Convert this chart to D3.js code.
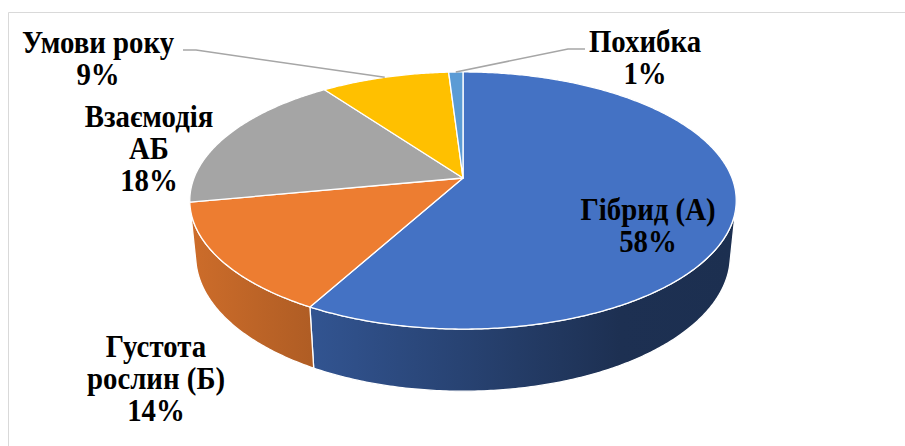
<!DOCTYPE html>
<html>
<head>
<meta charset="utf-8">
<script src="https://cdn.jsdelivr.net/npm/d3@7"></script>
<style>
  body { margin: 0; background: #fff; }
</style>
</head>
<body>
<svg id="chart" width="905" height="446"></svg>
<script>
// data, clockwise from 12 o'clock
var categories = ["Гібрид (А)", "Густота рослин (Б)", "Взаємодія АБ", "Умови року", "Похибка"];
var values = [58, 14, 18, 9, 1];
var labelLines = [["Гібрид (А)"], ["Густота", "рослин (Б)"], ["Взаємодія", "АБ"], ["Умови року"], ["Похибка"]];
var colors = ["#4472C4", "#ED7D31", "#A5A5A5", "#FFC000", "#5B9BD5"];

// layout of the 3d pie
var cx = 463, cy = 178;      // projected centre of the top face
var R = 269;                 // radius
var elev = 27.6 * Math.PI / 180;
var dist = 1362;             // camera distance (perspective)
var depth = 63;              // pie thickness
var sinE = Math.sin(elev), cosE = Math.cos(elev);

// label anchors: centre x, first baseline; leader elbow for outside labels
var labelPos = [
  {x: 648, y: 220},
  {x: 156, y: 357},
  {x: 149, y: 127},
  {x: 98, y: 53, leader: [[183, 50], [196, 50]]},
  {x: 645, y: 52, leader: [[585, 49], [568, 49]]}
];
var lineH = 32;
var fontFamily = "'Liberation Serif', 'Times New Roman', serif";
var fontSize = 31;
var squeeze = 0.93;          // the labels are a little narrower than plain Times

var svg = d3.select("#chart");

// frame of the chart area
svg.append("path")
   .attr("d", "M8.5,446V12.5H905")
   .attr("fill", "none")
   .attr("stroke", "#D9D9D9")
   .attr("stroke-width", 1);

/*
// Projects a point of the pie (angle clockwise from the back, radius,
// height above the top face) to the screen
*/
function proj(theta, r, hgt)
{
  var X = r * Math.sin(theta);
  var D = -r * Math.cos(theta);
  var sy = D * sinE - hgt * cosE;
  var zc = D * cosE + hgt * sinE;
  var s = dist / (dist - zc);
  return [cx + X * s, cy + sy * s];
}

function arcPoints(a0, a1, hgt)
{
  var n = Math.max(2, Math.ceil((a1 - a0) / 0.01));
  var pts = [];
  for(var i = 0; i <= n; i++)
  {
    pts.push(proj(a0 + (a1 - a0) * i / n, R, hgt));
  }
  return pts;
}

var pie = d3.pie().sort(null).value(function(d) {return d;})
            .startAngle(0).endAngle(2 * Math.PI);
var arcs = pie(values);

var line = d3.line();

// silhouette of the cylinder wall
var thetaR = Math.acos(-R / (dist * cosE));
var thetaL = 2 * Math.PI - thetaR;

// gradient shading for the walls (darker to the right)
var defs = svg.append("defs");
var x0 = cx - R, x1 = cx + R;
arcs.forEach(function(a, i)
{
  var g = defs.append("linearGradient")
              .attr("id", "side" + i)
              .attr("gradientUnits", "userSpaceOnUse")
              .attr("x1", x0).attr("x2", x1)
              .attr("y1", 0).attr("y2", 0);
  var base = d3.rgb(colors[i]);
  [[0, 0.86], [(620 - x0) / (x1 - x0), 0.42], [1, 0.41]].forEach(function(s)
  {
    g.append("stop")
     .attr("offset", s[0])
     .attr("stop-color", d3.rgb(base.r * s[1], base.g * s[1], base.b * s[1]).formatHex());
  });
});

// walls
svg.append("g").selectAll("path")
   .data(arcs.filter(function(a) {return Math.min(a.endAngle, thetaL) > Math.max(a.startAngle, thetaR);}))
   .enter().append("path")
   .attr("d", function(a)
   {
     var s0 = Math.max(a.startAngle, thetaR), s1 = Math.min(a.endAngle, thetaL);
     var pts = arcPoints(s0, s1, 0).concat(arcPoints(s0, s1, -depth).reverse());
     return line(pts) + "Z";
   })
   .attr("fill", function(a) {return "url(#side" + a.index + ")";})
   .attr("stroke", "#fff")
   .attr("stroke-width", 1.3)
   .attr("stroke-linejoin", "round");

// top face
svg.append("g").selectAll("path")
   .data(arcs)
   .enter().append("path")
   .attr("d", function(a)
   {
     var pts = [[cx, cy]].concat(arcPoints(a.startAngle, a.endAngle, 0));
     return line(pts) + "Z";
   })
   .attr("fill", function(a) {return colors[a.index];})
   .attr("stroke", "#fff")
   .attr("stroke-width", 1.3)
   .attr("stroke-linejoin", "round");

// leader lines to the rim at the middle of the slice
arcs.forEach(function(a, i)
{
  var lp = labelPos[i];
  if(!lp.leader) return;
  var mid = proj((a.startAngle + a.endAngle) / 2, R, 0);
  svg.append("path")
     .attr("d", line(lp.leader.concat([mid])))
     .attr("fill", "none")
     .attr("stroke", "#A6A6A6")
     .attr("stroke-width", 1.5);
});

// data labels
arcs.forEach(function(a, i)
{
  var lp = labelPos[i];
  var lines = labelLines[i].concat([values[i] + "%"]);
  var t = svg.append("text")
             .attr("transform", "translate(" + lp.x + ",0) scale(" + squeeze + ",1)")
             .attr("text-anchor", "middle")
             .attr("font-family", fontFamily)
             .attr("font-weight", "bold")
             .attr("font-size", fontSize)
             .attr("fill", "#000");
  lines.forEach(function(s, k)
  {
    t.append("tspan").attr("x", 0).attr("y", lp.y + k * lineH).text(s);
  });
});
</script>
</body>
</html>
